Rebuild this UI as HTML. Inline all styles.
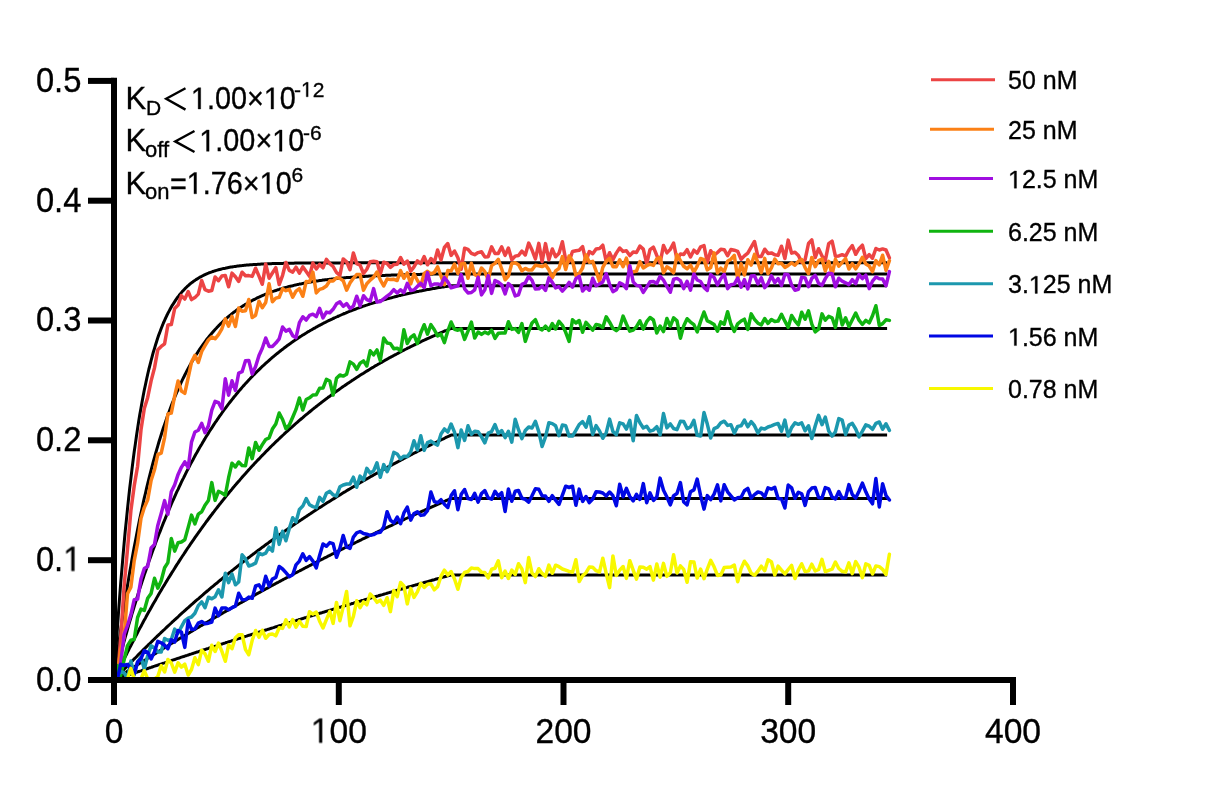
<!DOCTYPE html>
<html><head><meta charset="utf-8"><style>
html,body{margin:0;padding:0;background:#fff;}
svg{display:block;font-family:"Liberation Sans",sans-serif;}
.tx{filter:grayscale(100%);}
.tx text{stroke:#000;stroke-width:0.35px;}
</style></head><body>
<svg width="1218" height="787" viewBox="0 0 1218 787">
<rect width="1218" height="787" fill="#fff"/>
<g fill="none" stroke="#000" stroke-width="3" stroke-linejoin="round">
<path d="M114.0,680.0 L115.1,662.0 L116.2,644.9 L117.4,628.4 L118.5,612.7 L119.6,597.6 L120.7,583.2 L121.9,569.4 L123.0,556.2 L124.1,543.6 L125.2,531.5 L126.4,519.9 L127.5,508.9 L128.6,498.3 L129.7,488.1 L130.9,478.4 L132.0,469.1 L133.1,460.3 L134.2,451.8 L135.4,443.6 L136.5,435.8 L137.6,428.4 L138.7,421.3 L139.8,414.4 L141.0,407.9 L142.1,401.7 L143.2,395.7 L144.3,390.0 L145.5,384.5 L146.6,379.3 L147.7,374.2 L148.8,369.5 L150.0,364.9 L151.1,360.5 L152.2,356.3 L153.3,352.2 L154.5,348.4 L155.6,344.7 L156.7,341.2 L157.8,337.8 L158.9,334.6 L160.1,331.5 L161.2,328.5 L162.3,325.7 L163.4,323.0 L164.6,320.4 L165.7,317.9 L166.8,315.5 L167.9,313.3 L169.1,311.1 L170.2,309.0 L171.3,307.0 L172.4,305.1 L173.6,303.3 L174.7,301.6 L175.8,299.9 L176.9,298.3 L178.1,296.8 L179.2,295.3 L180.3,293.9 L181.4,292.6 L182.5,291.3 L183.7,290.1 L184.8,288.9 L185.9,287.8 L187.0,286.7 L188.2,285.7 L189.3,284.7 L190.4,283.7 L191.5,282.8 L192.7,282.0 L193.8,281.1 L194.9,280.4 L196.0,279.6 L197.2,278.9 L198.3,278.2 L199.4,277.5 L200.5,276.9 L201.7,276.3 L202.8,275.7 L203.9,275.1 L205.0,274.6 L206.1,274.1 L207.3,273.6 L208.4,273.2 L209.5,272.7 L210.6,272.3 L211.8,271.9 L212.9,271.5 L214.0,271.1 L215.1,270.8 L216.3,270.4 L217.4,270.1 L218.5,269.8 L219.6,269.5 L220.8,269.2 L221.9,268.9 L223.0,268.6 L224.1,268.4 L225.3,268.2 L226.4,267.9 L227.5,267.7 L228.6,267.5 L229.7,267.3 L230.9,267.1 L232.0,266.9 L233.1,266.7 L234.2,266.6 L235.4,266.4 L236.5,266.2 L237.6,266.1 L238.7,266.0 L239.9,265.8 L241.0,265.7 L242.1,265.6 L243.2,265.4 L244.4,265.3 L245.5,265.2 L246.6,265.1 L247.7,265.0 L248.8,264.9 L250.0,264.8 L251.1,264.7 L252.2,264.7 L253.3,264.6 L254.5,264.5 L255.6,264.4 L256.7,264.4 L257.8,264.3 L259.0,264.2 L260.1,264.2 L261.2,264.1 L262.3,264.1 L263.5,264.0 L264.6,263.9 L265.7,263.9 L266.8,263.9 L268.0,263.8 L269.1,263.8 L270.2,263.7 L271.3,263.7 L272.4,263.6 L273.6,263.6 L274.7,263.6 L275.8,263.5 L276.9,263.5 L278.1,263.5 L279.2,263.4 L280.3,263.4 L281.4,263.4 L282.6,263.4 L283.7,263.3 L284.8,263.3 L285.9,263.3 L287.1,263.3 L288.2,263.3 L289.3,263.2 L290.4,263.2 L291.6,263.2 L292.7,263.2 L293.8,263.2 L294.9,263.1 L296.0,263.1 L297.2,263.1 L298.3,263.1 L299.4,263.1 L300.5,263.1 L301.7,263.1 L302.8,263.1 L303.9,263.0 L305.0,263.0 L306.2,263.0 L307.3,263.0 L308.4,263.0 L309.5,263.0 L310.7,263.0 L311.8,263.0 L312.9,263.0 L314.0,263.0 L315.2,263.0 L316.3,263.0 L317.4,262.9 L318.5,262.9 L319.6,262.9 L320.8,262.9 L321.9,262.9 L323.0,262.9 L324.1,262.9 L325.3,262.9 L326.4,262.9 L327.5,262.9 L328.6,262.9 L329.8,262.9 L330.9,262.9 L332.0,262.9 L333.1,262.9 L334.3,262.9 L335.4,262.9 L336.5,262.9 L337.6,262.9 L338.8,262.9 L339.9,262.9 L341.0,262.9 L342.1,262.9 L343.2,262.9 L344.4,262.8 L345.5,262.8 L346.6,262.8 L347.7,262.8 L348.9,262.8 L350.0,262.8 L351.1,262.8 L352.2,262.8 L353.4,262.8 L354.5,262.8 L355.6,262.8 L356.7,262.8 L357.9,262.8 L359.0,262.8 L360.1,262.8 L361.2,262.8 L362.3,262.8 L363.5,262.8 L364.6,262.8 L365.7,262.8 L366.8,262.8 L368.0,262.8 L369.1,262.8 L370.2,262.8 L371.3,262.8 L372.5,262.8 L373.6,262.8 L374.7,262.8 L375.8,262.8 L377.0,262.8 L378.1,262.8 L379.2,262.8 L380.3,262.8 L381.5,262.8 L382.6,262.8 L383.7,262.8 L384.8,262.8 L385.9,262.8 L387.1,262.8 L388.2,262.8 L389.3,262.8 L390.4,262.8 L391.6,262.8 L392.7,262.8 L393.8,262.8 L394.9,262.8 L396.1,262.8 L397.2,262.8 L398.3,262.8 L399.4,262.8 L400.6,262.8 L401.7,262.8 L402.8,262.8 L403.9,262.8 L405.1,262.8 L406.2,262.8 L407.3,262.8 L408.4,262.8 L409.5,262.8 L410.7,262.8 L411.8,262.8 L412.9,262.8 L414.0,262.8 L415.2,262.8 L416.3,262.8 L417.4,262.8 L418.5,262.8 L419.7,262.8 L420.8,262.8 L421.9,262.8 L423.0,262.8 L424.2,262.8 L425.3,262.8 L426.4,262.8 L427.5,262.8 L428.7,262.8 L429.8,262.8 L430.9,262.8 L432.0,262.8 L433.1,262.8 L434.3,262.8 L435.4,262.8 L436.5,262.8 L437.6,262.8 L438.8,262.8 L439.9,262.8 L441.0,262.8 L442.1,262.8 L443.3,262.8 L444.4,262.8 L445.5,262.8 L446.6,262.8 L447.8,262.8 L448.9,262.8 L450.0,262.8 L451.1,262.8 L887.1,262.8" /><path d="M114.0,680.0 L115.1,671.2 L116.2,662.5 L117.4,654.0 L118.5,645.7 L119.6,637.6 L120.7,629.7 L121.9,622.0 L123.0,614.4 L124.1,607.0 L125.2,599.7 L126.4,592.6 L127.5,585.6 L128.6,578.9 L129.7,572.2 L130.9,565.7 L132.0,559.3 L133.1,553.1 L134.2,547.0 L135.4,541.1 L136.5,535.2 L137.6,529.5 L138.7,524.0 L139.8,518.5 L141.0,513.2 L142.1,508.0 L143.2,502.9 L144.3,497.9 L145.5,493.0 L146.6,488.2 L147.7,483.5 L148.8,479.0 L150.0,474.5 L151.1,470.1 L152.2,465.8 L153.3,461.6 L154.5,457.5 L155.6,453.5 L156.7,449.6 L157.8,445.8 L158.9,442.0 L160.1,438.3 L161.2,434.8 L162.3,431.2 L163.4,427.8 L164.6,424.4 L165.7,421.2 L166.8,417.9 L167.9,414.8 L169.1,411.7 L170.2,408.7 L171.3,405.8 L172.4,402.9 L173.6,400.1 L174.7,397.3 L175.8,394.6 L176.9,392.0 L178.1,389.4 L179.2,386.9 L180.3,384.4 L181.4,382.0 L182.5,379.6 L183.7,377.3 L184.8,375.0 L185.9,372.8 L187.0,370.7 L188.2,368.5 L189.3,366.5 L190.4,364.4 L191.5,362.5 L192.7,360.5 L193.8,358.6 L194.9,356.8 L196.0,355.0 L197.2,353.2 L198.3,351.4 L199.4,349.7 L200.5,348.1 L201.7,346.5 L202.8,344.9 L203.9,343.3 L205.0,341.8 L206.1,340.3 L207.3,338.8 L208.4,337.4 L209.5,336.0 L210.6,334.7 L211.8,333.3 L212.9,332.0 L214.0,330.7 L215.1,329.5 L216.3,328.3 L217.4,327.1 L218.5,325.9 L219.6,324.8 L220.8,323.6 L221.9,322.6 L223.0,321.5 L224.1,320.4 L225.3,319.4 L226.4,318.4 L227.5,317.4 L228.6,316.5 L229.7,315.5 L230.9,314.6 L232.0,313.7 L233.1,312.8 L234.2,312.0 L235.4,311.1 L236.5,310.3 L237.6,309.5 L238.7,308.7 L239.9,308.0 L241.0,307.2 L242.1,306.5 L243.2,305.7 L244.4,305.0 L245.5,304.3 L246.6,303.7 L247.7,303.0 L248.8,302.4 L250.0,301.7 L251.1,301.1 L252.2,300.5 L253.3,299.9 L254.5,299.3 L255.6,298.8 L256.7,298.2 L257.8,297.7 L259.0,297.2 L260.1,296.6 L261.2,296.1 L262.3,295.6 L263.5,295.1 L264.6,294.7 L265.7,294.2 L266.8,293.8 L268.0,293.3 L269.1,292.9 L270.2,292.5 L271.3,292.0 L272.4,291.6 L273.6,291.2 L274.7,290.8 L275.8,290.5 L276.9,290.1 L278.1,289.7 L279.2,289.4 L280.3,289.0 L281.4,288.7 L282.6,288.3 L283.7,288.0 L284.8,287.7 L285.9,287.4 L287.1,287.1 L288.2,286.8 L289.3,286.5 L290.4,286.2 L291.6,285.9 L292.7,285.7 L293.8,285.4 L294.9,285.1 L296.0,284.9 L297.2,284.6 L298.3,284.4 L299.4,284.1 L300.5,283.9 L301.7,283.7 L302.8,283.4 L303.9,283.2 L305.0,283.0 L306.2,282.8 L307.3,282.6 L308.4,282.4 L309.5,282.2 L310.7,282.0 L311.8,281.8 L312.9,281.6 L314.0,281.4 L315.2,281.3 L316.3,281.1 L317.4,280.9 L318.5,280.8 L319.6,280.6 L320.8,280.4 L321.9,280.3 L323.0,280.1 L324.1,280.0 L325.3,279.8 L326.4,279.7 L327.5,279.6 L328.6,279.4 L329.8,279.3 L330.9,279.2 L332.0,279.0 L333.1,278.9 L334.3,278.8 L335.4,278.7 L336.5,278.6 L337.6,278.5 L338.8,278.3 L339.9,278.2 L341.0,278.1 L342.1,278.0 L343.2,277.9 L344.4,277.8 L345.5,277.7 L346.6,277.6 L347.7,277.5 L348.9,277.4 L350.0,277.4 L351.1,277.3 L352.2,277.2 L353.4,277.1 L354.5,277.0 L355.6,276.9 L356.7,276.9 L357.9,276.8 L359.0,276.7 L360.1,276.6 L361.2,276.6 L362.3,276.5 L363.5,276.4 L364.6,276.4 L365.7,276.3 L366.8,276.2 L368.0,276.2 L369.1,276.1 L370.2,276.0 L371.3,276.0 L372.5,275.9 L373.6,275.9 L374.7,275.8 L375.8,275.8 L377.0,275.7 L378.1,275.7 L379.2,275.6 L380.3,275.6 L381.5,275.5 L382.6,275.5 L383.7,275.4 L384.8,275.4 L385.9,275.3 L387.1,275.3 L388.2,275.2 L389.3,275.2 L390.4,275.2 L391.6,275.1 L392.7,275.1 L393.8,275.0 L394.9,275.0 L396.1,275.0 L397.2,274.9 L398.3,274.9 L399.4,274.9 L400.6,274.8 L401.7,274.8 L402.8,274.8 L403.9,274.7 L405.1,274.7 L406.2,274.7 L407.3,274.7 L408.4,274.6 L409.5,274.6 L410.7,274.6 L411.8,274.5 L412.9,274.5 L414.0,274.5 L415.2,274.5 L416.3,274.4 L417.4,274.4 L418.5,274.4 L419.7,274.4 L420.8,274.3 L421.9,274.3 L423.0,274.3 L424.2,274.3 L425.3,274.3 L426.4,274.2 L427.5,274.2 L428.7,274.2 L429.8,274.2 L430.9,274.2 L432.0,274.2 L433.1,274.1 L434.3,274.1 L435.4,274.1 L436.5,274.1 L437.6,274.1 L438.8,274.1 L439.9,274.0 L441.0,274.0 L442.1,274.0 L443.3,274.0 L444.4,274.0 L445.5,274.0 L446.6,274.0 L447.8,273.9 L448.9,273.9 L450.0,273.9 L451.1,273.9 L887.1,273.9" /><path d="M114.0,680.0 L115.1,675.5 L116.2,671.1 L117.4,666.7 L118.5,662.4 L119.6,658.1 L120.7,653.9 L121.9,649.7 L123.0,645.5 L124.1,641.4 L125.2,637.4 L126.4,633.3 L127.5,629.4 L128.6,625.4 L129.7,621.6 L130.9,617.7 L132.0,613.9 L133.1,610.2 L134.2,606.5 L135.4,602.8 L136.5,599.2 L137.6,595.6 L138.7,592.0 L139.8,588.5 L141.0,585.0 L142.1,581.6 L143.2,578.2 L144.3,574.8 L145.5,571.5 L146.6,568.2 L147.7,564.9 L148.8,561.7 L150.0,558.5 L151.1,555.4 L152.2,552.3 L153.3,549.2 L154.5,546.1 L155.6,543.1 L156.7,540.1 L157.8,537.2 L158.9,534.3 L160.1,531.4 L161.2,528.5 L162.3,525.7 L163.4,522.9 L164.6,520.2 L165.7,517.4 L166.8,514.7 L167.9,512.1 L169.1,509.4 L170.2,506.8 L171.3,504.2 L172.4,501.7 L173.6,499.1 L174.7,496.6 L175.8,494.2 L176.9,491.7 L178.1,489.3 L179.2,486.9 L180.3,484.5 L181.4,482.2 L182.5,479.9 L183.7,477.6 L184.8,475.3 L185.9,473.1 L187.0,470.9 L188.2,468.7 L189.3,466.5 L190.4,464.4 L191.5,462.3 L192.7,460.2 L193.8,458.1 L194.9,456.0 L196.0,454.0 L197.2,452.0 L198.3,450.0 L199.4,448.1 L200.5,446.1 L201.7,444.2 L202.8,442.3 L203.9,440.4 L205.0,438.6 L206.1,436.7 L207.3,434.9 L208.4,433.1 L209.5,431.3 L210.6,429.6 L211.8,427.8 L212.9,426.1 L214.0,424.4 L215.1,422.7 L216.3,421.1 L217.4,419.4 L218.5,417.8 L219.6,416.2 L220.8,414.6 L221.9,413.0 L223.0,411.4 L224.1,409.9 L225.3,408.4 L226.4,406.9 L227.5,405.4 L228.6,403.9 L229.7,402.5 L230.9,401.0 L232.0,399.6 L233.1,398.2 L234.2,396.8 L235.4,395.4 L236.5,394.0 L237.6,392.7 L238.7,391.3 L239.9,390.0 L241.0,388.7 L242.1,387.4 L243.2,386.1 L244.4,384.9 L245.5,383.6 L246.6,382.4 L247.7,381.2 L248.8,380.0 L250.0,378.8 L251.1,377.6 L252.2,376.4 L253.3,375.3 L254.5,374.1 L255.6,373.0 L256.7,371.9 L257.8,370.8 L259.0,369.7 L260.1,368.6 L261.2,367.5 L262.3,366.4 L263.5,365.4 L264.6,364.4 L265.7,363.3 L266.8,362.3 L268.0,361.3 L269.1,360.3 L270.2,359.3 L271.3,358.4 L272.4,357.4 L273.6,356.5 L274.7,355.5 L275.8,354.6 L276.9,353.7 L278.1,352.8 L279.2,351.9 L280.3,351.0 L281.4,350.1 L282.6,349.2 L283.7,348.4 L284.8,347.5 L285.9,346.7 L287.1,345.8 L288.2,345.0 L289.3,344.2 L290.4,343.4 L291.6,342.6 L292.7,341.8 L293.8,341.0 L294.9,340.3 L296.0,339.5 L297.2,338.7 L298.3,338.0 L299.4,337.3 L300.5,336.5 L301.7,335.8 L302.8,335.1 L303.9,334.4 L305.0,333.7 L306.2,333.0 L307.3,332.3 L308.4,331.6 L309.5,331.0 L310.7,330.3 L311.8,329.7 L312.9,329.0 L314.0,328.4 L315.2,327.8 L316.3,327.1 L317.4,326.5 L318.5,325.9 L319.6,325.3 L320.8,324.7 L321.9,324.1 L323.0,323.5 L324.1,322.9 L325.3,322.4 L326.4,321.8 L327.5,321.2 L328.6,320.7 L329.8,320.1 L330.9,319.6 L332.0,319.1 L333.1,318.5 L334.3,318.0 L335.4,317.5 L336.5,317.0 L337.6,316.5 L338.8,316.0 L339.9,315.5 L341.0,315.0 L342.1,314.5 L343.2,314.0 L344.4,313.5 L345.5,313.1 L346.6,312.6 L347.7,312.1 L348.9,311.7 L350.0,311.2 L351.1,310.8 L352.2,310.4 L353.4,309.9 L354.5,309.5 L355.6,309.1 L356.7,308.6 L357.9,308.2 L359.0,307.8 L360.1,307.4 L361.2,307.0 L362.3,306.6 L363.5,306.2 L364.6,305.8 L365.7,305.4 L366.8,305.1 L368.0,304.7 L369.1,304.3 L370.2,303.9 L371.3,303.6 L372.5,303.2 L373.6,302.9 L374.7,302.5 L375.8,302.2 L377.0,301.8 L378.1,301.5 L379.2,301.1 L380.3,300.8 L381.5,300.5 L382.6,300.1 L383.7,299.8 L384.8,299.5 L385.9,299.2 L387.1,298.9 L388.2,298.6 L389.3,298.3 L390.4,297.9 L391.6,297.7 L392.7,297.4 L393.8,297.1 L394.9,296.8 L396.1,296.5 L397.2,296.2 L398.3,295.9 L399.4,295.6 L400.6,295.4 L401.7,295.1 L402.8,294.8 L403.9,294.6 L405.1,294.3 L406.2,294.0 L407.3,293.8 L408.4,293.5 L409.5,293.3 L410.7,293.0 L411.8,292.8 L412.9,292.5 L414.0,292.3 L415.2,292.1 L416.3,291.8 L417.4,291.6 L418.5,291.4 L419.7,291.1 L420.8,290.9 L421.9,290.7 L423.0,290.5 L424.2,290.3 L425.3,290.0 L426.4,289.8 L427.5,289.6 L428.7,289.4 L429.8,289.2 L430.9,289.0 L432.0,288.8 L433.1,288.6 L434.3,288.4 L435.4,288.2 L436.5,288.0 L437.6,287.8 L438.8,287.6 L439.9,287.5 L441.0,287.3 L442.1,287.1 L443.3,286.9 L444.4,286.7 L445.5,286.6 L446.6,286.4 L447.8,286.2 L448.9,286.0 L450.0,285.9 L451.1,285.7 L887.1,285.7" /><path d="M114.0,680.0 L115.1,677.6 L116.2,675.2 L117.4,672.9 L118.5,670.5 L119.6,668.2 L120.7,665.9 L121.9,663.6 L123.0,661.3 L124.1,659.0 L125.2,656.7 L126.4,654.5 L127.5,652.2 L128.6,650.0 L129.7,647.7 L130.9,645.5 L132.0,643.3 L133.1,641.2 L134.2,639.0 L135.4,636.8 L136.5,634.7 L137.6,632.5 L138.7,630.4 L139.8,628.3 L141.0,626.2 L142.1,624.1 L143.2,622.0 L144.3,619.9 L145.5,617.9 L146.6,615.8 L147.7,613.8 L148.8,611.8 L150.0,609.8 L151.1,607.8 L152.2,605.8 L153.3,603.8 L154.5,601.8 L155.6,599.9 L156.7,597.9 L157.8,596.0 L158.9,594.1 L160.1,592.1 L161.2,590.2 L162.3,588.3 L163.4,586.5 L164.6,584.6 L165.7,582.7 L166.8,580.9 L167.9,579.0 L169.1,577.2 L170.2,575.4 L171.3,573.6 L172.4,571.8 L173.6,570.0 L174.7,568.2 L175.8,566.4 L176.9,564.6 L178.1,562.9 L179.2,561.1 L180.3,559.4 L181.4,557.7 L182.5,556.0 L183.7,554.3 L184.8,552.6 L185.9,550.9 L187.0,549.2 L188.2,547.5 L189.3,545.9 L190.4,544.2 L191.5,542.6 L192.7,540.9 L193.8,539.3 L194.9,537.7 L196.0,536.1 L197.2,534.5 L198.3,532.9 L199.4,531.3 L200.5,529.8 L201.7,528.2 L202.8,526.6 L203.9,525.1 L205.0,523.6 L206.1,522.0 L207.3,520.5 L208.4,519.0 L209.5,517.5 L210.6,516.0 L211.8,514.5 L212.9,513.0 L214.0,511.6 L215.1,510.1 L216.3,508.6 L217.4,507.2 L218.5,505.8 L219.6,504.3 L220.8,502.9 L221.9,501.5 L223.0,500.1 L224.1,498.7 L225.3,497.3 L226.4,495.9 L227.5,494.5 L228.6,493.2 L229.7,491.8 L230.9,490.4 L232.0,489.1 L233.1,487.7 L234.2,486.4 L235.4,485.1 L236.5,483.8 L237.6,482.5 L238.7,481.2 L239.9,479.9 L241.0,478.6 L242.1,477.3 L243.2,476.0 L244.4,474.7 L245.5,473.5 L246.6,472.2 L247.7,471.0 L248.8,469.7 L250.0,468.5 L251.1,467.3 L252.2,466.1 L253.3,464.9 L254.5,463.6 L255.6,462.4 L256.7,461.3 L257.8,460.1 L259.0,458.9 L260.1,457.7 L261.2,456.5 L262.3,455.4 L263.5,454.2 L264.6,453.1 L265.7,451.9 L266.8,450.8 L268.0,449.7 L269.1,448.5 L270.2,447.4 L271.3,446.3 L272.4,445.2 L273.6,444.1 L274.7,443.0 L275.8,441.9 L276.9,440.9 L278.1,439.8 L279.2,438.7 L280.3,437.6 L281.4,436.6 L282.6,435.5 L283.7,434.5 L284.8,433.4 L285.9,432.4 L287.1,431.4 L288.2,430.4 L289.3,429.3 L290.4,428.3 L291.6,427.3 L292.7,426.3 L293.8,425.3 L294.9,424.3 L296.0,423.4 L297.2,422.4 L298.3,421.4 L299.4,420.4 L300.5,419.5 L301.7,418.5 L302.8,417.6 L303.9,416.6 L305.0,415.7 L306.2,414.7 L307.3,413.8 L308.4,412.9 L309.5,412.0 L310.7,411.0 L311.8,410.1 L312.9,409.2 L314.0,408.3 L315.2,407.4 L316.3,406.5 L317.4,405.6 L318.5,404.8 L319.6,403.9 L320.8,403.0 L321.9,402.1 L323.0,401.3 L324.1,400.4 L325.3,399.6 L326.4,398.7 L327.5,397.9 L328.6,397.0 L329.8,396.2 L330.9,395.4 L332.0,394.5 L333.1,393.7 L334.3,392.9 L335.4,392.1 L336.5,391.3 L337.6,390.5 L338.8,389.7 L339.9,388.9 L341.0,388.1 L342.1,387.3 L343.2,386.5 L344.4,385.8 L345.5,385.0 L346.6,384.2 L347.7,383.4 L348.9,382.7 L350.0,381.9 L351.1,381.2 L352.2,380.4 L353.4,379.7 L354.5,378.9 L355.6,378.2 L356.7,377.5 L357.9,376.8 L359.0,376.0 L360.1,375.3 L361.2,374.6 L362.3,373.9 L363.5,373.2 L364.6,372.5 L365.7,371.8 L366.8,371.1 L368.0,370.4 L369.1,369.7 L370.2,369.0 L371.3,368.3 L372.5,367.6 L373.6,367.0 L374.7,366.3 L375.8,365.6 L377.0,365.0 L378.1,364.3 L379.2,363.7 L380.3,363.0 L381.5,362.4 L382.6,361.7 L383.7,361.1 L384.8,360.4 L385.9,359.8 L387.1,359.2 L388.2,358.5 L389.3,357.9 L390.4,357.3 L391.6,356.7 L392.7,356.1 L393.8,355.5 L394.9,354.9 L396.1,354.3 L397.2,353.7 L398.3,353.1 L399.4,352.5 L400.6,351.9 L401.7,351.3 L402.8,350.7 L403.9,350.1 L405.1,349.5 L406.2,349.0 L407.3,348.4 L408.4,347.8 L409.5,347.3 L410.7,346.7 L411.8,346.1 L412.9,345.6 L414.0,345.0 L415.2,344.5 L416.3,343.9 L417.4,343.4 L418.5,342.9 L419.7,342.3 L420.8,341.8 L421.9,341.2 L423.0,340.7 L424.2,340.2 L425.3,339.7 L426.4,339.1 L427.5,338.6 L428.7,338.1 L429.8,337.6 L430.9,337.1 L432.0,336.6 L433.1,336.1 L434.3,335.6 L435.4,335.1 L436.5,334.6 L437.6,334.1 L438.8,333.6 L439.9,333.1 L441.0,332.6 L442.1,332.2 L443.3,331.7 L444.4,331.2 L445.5,330.7 L446.6,330.3 L447.8,329.8 L448.9,329.3 L450.0,328.9 L451.1,328.4 L887.1,328.4" /><path d="M114.0,680.0 L115.1,678.8 L116.2,677.6 L117.4,676.4 L118.5,675.2 L119.6,674.0 L120.7,672.9 L121.9,671.7 L123.0,670.5 L124.1,669.3 L125.2,668.2 L126.4,667.0 L127.5,665.8 L128.6,664.7 L129.7,663.5 L130.9,662.4 L132.0,661.2 L133.1,660.1 L134.2,658.9 L135.4,657.8 L136.5,656.7 L137.6,655.5 L138.7,654.4 L139.8,653.3 L141.0,652.2 L142.1,651.0 L143.2,649.9 L144.3,648.8 L145.5,647.7 L146.6,646.6 L147.7,645.5 L148.8,644.4 L150.0,643.3 L151.1,642.2 L152.2,641.1 L153.3,640.0 L154.5,638.9 L155.6,637.8 L156.7,636.7 L157.8,635.7 L158.9,634.6 L160.1,633.5 L161.2,632.4 L162.3,631.4 L163.4,630.3 L164.6,629.3 L165.7,628.2 L166.8,627.1 L167.9,626.1 L169.1,625.0 L170.2,624.0 L171.3,623.0 L172.4,621.9 L173.6,620.9 L174.7,619.8 L175.8,618.8 L176.9,617.8 L178.1,616.8 L179.2,615.7 L180.3,614.7 L181.4,613.7 L182.5,612.7 L183.7,611.7 L184.8,610.7 L185.9,609.6 L187.0,608.6 L188.2,607.6 L189.3,606.6 L190.4,605.6 L191.5,604.7 L192.7,603.7 L193.8,602.7 L194.9,601.7 L196.0,600.7 L197.2,599.7 L198.3,598.8 L199.4,597.8 L200.5,596.8 L201.7,595.8 L202.8,594.9 L203.9,593.9 L205.0,592.9 L206.1,592.0 L207.3,591.0 L208.4,590.1 L209.5,589.1 L210.6,588.2 L211.8,587.2 L212.9,586.3 L214.0,585.4 L215.1,584.4 L216.3,583.5 L217.4,582.6 L218.5,581.6 L219.6,580.7 L220.8,579.8 L221.9,578.8 L223.0,577.9 L224.1,577.0 L225.3,576.1 L226.4,575.2 L227.5,574.3 L228.6,573.4 L229.7,572.5 L230.9,571.6 L232.0,570.7 L233.1,569.8 L234.2,568.9 L235.4,568.0 L236.5,567.1 L237.6,566.2 L238.7,565.3 L239.9,564.4 L241.0,563.6 L242.1,562.7 L243.2,561.8 L244.4,560.9 L245.5,560.1 L246.6,559.2 L247.7,558.3 L248.8,557.5 L250.0,556.6 L251.1,555.7 L252.2,554.9 L253.3,554.0 L254.5,553.2 L255.6,552.3 L256.7,551.5 L257.8,550.6 L259.0,549.8 L260.1,549.0 L261.2,548.1 L262.3,547.3 L263.5,546.5 L264.6,545.6 L265.7,544.8 L266.8,544.0 L268.0,543.2 L269.1,542.3 L270.2,541.5 L271.3,540.7 L272.4,539.9 L273.6,539.1 L274.7,538.3 L275.8,537.4 L276.9,536.6 L278.1,535.8 L279.2,535.0 L280.3,534.2 L281.4,533.4 L282.6,532.6 L283.7,531.9 L284.8,531.1 L285.9,530.3 L287.1,529.5 L288.2,528.7 L289.3,527.9 L290.4,527.1 L291.6,526.4 L292.7,525.6 L293.8,524.8 L294.9,524.0 L296.0,523.3 L297.2,522.5 L298.3,521.7 L299.4,521.0 L300.5,520.2 L301.7,519.5 L302.8,518.7 L303.9,518.0 L305.0,517.2 L306.2,516.5 L307.3,515.7 L308.4,515.0 L309.5,514.2 L310.7,513.5 L311.8,512.7 L312.9,512.0 L314.0,511.3 L315.2,510.5 L316.3,509.8 L317.4,509.1 L318.5,508.3 L319.6,507.6 L320.8,506.9 L321.9,506.2 L323.0,505.4 L324.1,504.7 L325.3,504.0 L326.4,503.3 L327.5,502.6 L328.6,501.9 L329.8,501.2 L330.9,500.5 L332.0,499.8 L333.1,499.1 L334.3,498.4 L335.4,497.7 L336.5,497.0 L337.6,496.3 L338.8,495.6 L339.9,494.9 L341.0,494.2 L342.1,493.5 L343.2,492.8 L344.4,492.1 L345.5,491.5 L346.6,490.8 L347.7,490.1 L348.9,489.4 L350.0,488.7 L351.1,488.1 L352.2,487.4 L353.4,486.7 L354.5,486.1 L355.6,485.4 L356.7,484.7 L357.9,484.1 L359.0,483.4 L360.1,482.8 L361.2,482.1 L362.3,481.5 L363.5,480.8 L364.6,480.2 L365.7,479.5 L366.8,478.9 L368.0,478.2 L369.1,477.6 L370.2,476.9 L371.3,476.3 L372.5,475.7 L373.6,475.0 L374.7,474.4 L375.8,473.8 L377.0,473.1 L378.1,472.5 L379.2,471.9 L380.3,471.2 L381.5,470.6 L382.6,470.0 L383.7,469.4 L384.8,468.8 L385.9,468.1 L387.1,467.5 L388.2,466.9 L389.3,466.3 L390.4,465.7 L391.6,465.1 L392.7,464.5 L393.8,463.9 L394.9,463.3 L396.1,462.7 L397.2,462.1 L398.3,461.5 L399.4,460.9 L400.6,460.3 L401.7,459.7 L402.8,459.1 L403.9,458.5 L405.1,457.9 L406.2,457.3 L407.3,456.7 L408.4,456.1 L409.5,455.6 L410.7,455.0 L411.8,454.4 L412.9,453.8 L414.0,453.2 L415.2,452.7 L416.3,452.1 L417.4,451.5 L418.5,451.0 L419.7,450.4 L420.8,449.8 L421.9,449.3 L423.0,448.7 L424.2,448.1 L425.3,447.6 L426.4,447.0 L427.5,446.5 L428.7,445.9 L429.8,445.3 L430.9,444.8 L432.0,444.2 L433.1,443.7 L434.3,443.1 L435.4,442.6 L436.5,442.1 L437.6,441.5 L438.8,441.0 L439.9,440.4 L441.0,439.9 L442.1,439.3 L443.3,438.8 L444.4,438.3 L445.5,437.7 L446.6,437.2 L447.8,436.7 L448.9,436.2 L450.0,435.6 L451.1,435.1 L887.1,435.1" /><path d="M114.0,680.0 L115.1,679.3 L116.2,678.5 L117.4,677.8 L118.5,677.1 L119.6,676.3 L120.7,675.6 L121.9,674.9 L123.0,674.1 L124.1,673.4 L125.2,672.7 L126.4,671.9 L127.5,671.2 L128.6,670.5 L129.7,669.8 L130.9,669.0 L132.0,668.3 L133.1,667.6 L134.2,666.9 L135.4,666.1 L136.5,665.4 L137.6,664.7 L138.7,664.0 L139.8,663.3 L141.0,662.6 L142.1,661.9 L143.2,661.1 L144.3,660.4 L145.5,659.7 L146.6,659.0 L147.7,658.3 L148.8,657.6 L150.0,656.9 L151.1,656.2 L152.2,655.5 L153.3,654.8 L154.5,654.1 L155.6,653.4 L156.7,652.7 L157.8,652.0 L158.9,651.3 L160.1,650.6 L161.2,649.9 L162.3,649.2 L163.4,648.5 L164.6,647.8 L165.7,647.1 L166.8,646.4 L167.9,645.7 L169.1,645.0 L170.2,644.3 L171.3,643.6 L172.4,642.9 L173.6,642.2 L174.7,641.6 L175.8,640.9 L176.9,640.2 L178.1,639.5 L179.2,638.8 L180.3,638.1 L181.4,637.5 L182.5,636.8 L183.7,636.1 L184.8,635.4 L185.9,634.8 L187.0,634.1 L188.2,633.4 L189.3,632.7 L190.4,632.1 L191.5,631.4 L192.7,630.7 L193.8,630.0 L194.9,629.4 L196.0,628.7 L197.2,628.0 L198.3,627.4 L199.4,626.7 L200.5,626.0 L201.7,625.4 L202.8,624.7 L203.9,624.0 L205.0,623.4 L206.1,622.7 L207.3,622.1 L208.4,621.4 L209.5,620.8 L210.6,620.1 L211.8,619.4 L212.9,618.8 L214.0,618.1 L215.1,617.5 L216.3,616.8 L217.4,616.2 L218.5,615.5 L219.6,614.9 L220.8,614.2 L221.9,613.6 L223.0,612.9 L224.1,612.3 L225.3,611.6 L226.4,611.0 L227.5,610.4 L228.6,609.7 L229.7,609.1 L230.9,608.4 L232.0,607.8 L233.1,607.1 L234.2,606.5 L235.4,605.9 L236.5,605.2 L237.6,604.6 L238.7,604.0 L239.9,603.3 L241.0,602.7 L242.1,602.1 L243.2,601.4 L244.4,600.8 L245.5,600.2 L246.6,599.5 L247.7,598.9 L248.8,598.3 L250.0,597.7 L251.1,597.0 L252.2,596.4 L253.3,595.8 L254.5,595.2 L255.6,594.6 L256.7,593.9 L257.8,593.3 L259.0,592.7 L260.1,592.1 L261.2,591.5 L262.3,590.8 L263.5,590.2 L264.6,589.6 L265.7,589.0 L266.8,588.4 L268.0,587.8 L269.1,587.2 L270.2,586.5 L271.3,585.9 L272.4,585.3 L273.6,584.7 L274.7,584.1 L275.8,583.5 L276.9,582.9 L278.1,582.3 L279.2,581.7 L280.3,581.1 L281.4,580.5 L282.6,579.9 L283.7,579.3 L284.8,578.7 L285.9,578.1 L287.1,577.5 L288.2,576.9 L289.3,576.3 L290.4,575.7 L291.6,575.1 L292.7,574.5 L293.8,573.9 L294.9,573.3 L296.0,572.7 L297.2,572.1 L298.3,571.5 L299.4,571.0 L300.5,570.4 L301.7,569.8 L302.8,569.2 L303.9,568.6 L305.0,568.0 L306.2,567.4 L307.3,566.9 L308.4,566.3 L309.5,565.7 L310.7,565.1 L311.8,564.5 L312.9,564.0 L314.0,563.4 L315.2,562.8 L316.3,562.2 L317.4,561.6 L318.5,561.1 L319.6,560.5 L320.8,559.9 L321.9,559.3 L323.0,558.8 L324.1,558.2 L325.3,557.6 L326.4,557.1 L327.5,556.5 L328.6,555.9 L329.8,555.4 L330.9,554.8 L332.0,554.2 L333.1,553.7 L334.3,553.1 L335.4,552.5 L336.5,552.0 L337.6,551.4 L338.8,550.8 L339.9,550.3 L341.0,549.7 L342.1,549.2 L343.2,548.6 L344.4,548.0 L345.5,547.5 L346.6,546.9 L347.7,546.4 L348.9,545.8 L350.0,545.3 L351.1,544.7 L352.2,544.2 L353.4,543.6 L354.5,543.1 L355.6,542.5 L356.7,542.0 L357.9,541.4 L359.0,540.9 L360.1,540.3 L361.2,539.8 L362.3,539.2 L363.5,538.7 L364.6,538.1 L365.7,537.6 L366.8,537.0 L368.0,536.5 L369.1,536.0 L370.2,535.4 L371.3,534.9 L372.5,534.3 L373.6,533.8 L374.7,533.3 L375.8,532.7 L377.0,532.2 L378.1,531.7 L379.2,531.1 L380.3,530.6 L381.5,530.1 L382.6,529.5 L383.7,529.0 L384.8,528.5 L385.9,527.9 L387.1,527.4 L388.2,526.9 L389.3,526.3 L390.4,525.8 L391.6,525.3 L392.7,524.8 L393.8,524.2 L394.9,523.7 L396.1,523.2 L397.2,522.7 L398.3,522.2 L399.4,521.6 L400.6,521.1 L401.7,520.6 L402.8,520.1 L403.9,519.6 L405.1,519.0 L406.2,518.5 L407.3,518.0 L408.4,517.5 L409.5,517.0 L410.7,516.5 L411.8,515.9 L412.9,515.4 L414.0,514.9 L415.2,514.4 L416.3,513.9 L417.4,513.4 L418.5,512.9 L419.7,512.4 L420.8,511.9 L421.9,511.3 L423.0,510.8 L424.2,510.3 L425.3,509.8 L426.4,509.3 L427.5,508.8 L428.7,508.3 L429.8,507.8 L430.9,507.3 L432.0,506.8 L433.1,506.3 L434.3,505.8 L435.4,505.3 L436.5,504.8 L437.6,504.3 L438.8,503.8 L439.9,503.3 L441.0,502.8 L442.1,502.3 L443.3,501.8 L444.4,501.3 L445.5,500.9 L446.6,500.4 L447.8,499.9 L448.9,499.4 L450.0,498.9 L451.1,498.4 L887.1,498.4" /><path d="M114.0,680.0 L115.1,679.6 L116.2,679.2 L117.4,678.8 L118.5,678.5 L119.6,678.1 L120.7,677.7 L121.9,677.3 L123.0,676.9 L124.1,676.5 L125.2,676.1 L126.4,675.8 L127.5,675.4 L128.6,675.0 L129.7,674.6 L130.9,674.2 L132.0,673.8 L133.1,673.4 L134.2,673.1 L135.4,672.7 L136.5,672.3 L137.6,671.9 L138.7,671.5 L139.8,671.2 L141.0,670.8 L142.1,670.4 L143.2,670.0 L144.3,669.6 L145.5,669.2 L146.6,668.9 L147.7,668.5 L148.8,668.1 L150.0,667.7 L151.1,667.4 L152.2,667.0 L153.3,666.6 L154.5,666.2 L155.6,665.8 L156.7,665.5 L157.8,665.1 L158.9,664.7 L160.1,664.3 L161.2,664.0 L162.3,663.6 L163.4,663.2 L164.6,662.8 L165.7,662.4 L166.8,662.1 L167.9,661.7 L169.1,661.3 L170.2,660.9 L171.3,660.6 L172.4,660.2 L173.6,659.8 L174.7,659.5 L175.8,659.1 L176.9,658.7 L178.1,658.3 L179.2,658.0 L180.3,657.6 L181.4,657.2 L182.5,656.8 L183.7,656.5 L184.8,656.1 L185.9,655.7 L187.0,655.4 L188.2,655.0 L189.3,654.6 L190.4,654.2 L191.5,653.9 L192.7,653.5 L193.8,653.1 L194.9,652.8 L196.0,652.4 L197.2,652.0 L198.3,651.7 L199.4,651.3 L200.5,650.9 L201.7,650.6 L202.8,650.2 L203.9,649.8 L205.0,649.5 L206.1,649.1 L207.3,648.7 L208.4,648.4 L209.5,648.0 L210.6,647.6 L211.8,647.3 L212.9,646.9 L214.0,646.5 L215.1,646.2 L216.3,645.8 L217.4,645.4 L218.5,645.1 L219.6,644.7 L220.8,644.3 L221.9,644.0 L223.0,643.6 L224.1,643.3 L225.3,642.9 L226.4,642.5 L227.5,642.2 L228.6,641.8 L229.7,641.5 L230.9,641.1 L232.0,640.7 L233.1,640.4 L234.2,640.0 L235.4,639.6 L236.5,639.3 L237.6,638.9 L238.7,638.6 L239.9,638.2 L241.0,637.9 L242.1,637.5 L243.2,637.1 L244.4,636.8 L245.5,636.4 L246.6,636.1 L247.7,635.7 L248.8,635.3 L250.0,635.0 L251.1,634.6 L252.2,634.3 L253.3,633.9 L254.5,633.6 L255.6,633.2 L256.7,632.9 L257.8,632.5 L259.0,632.1 L260.1,631.8 L261.2,631.4 L262.3,631.1 L263.5,630.7 L264.6,630.4 L265.7,630.0 L266.8,629.7 L268.0,629.3 L269.1,629.0 L270.2,628.6 L271.3,628.3 L272.4,627.9 L273.6,627.6 L274.7,627.2 L275.8,626.8 L276.9,626.5 L278.1,626.1 L279.2,625.8 L280.3,625.4 L281.4,625.1 L282.6,624.7 L283.7,624.4 L284.8,624.0 L285.9,623.7 L287.1,623.4 L288.2,623.0 L289.3,622.7 L290.4,622.3 L291.6,622.0 L292.7,621.6 L293.8,621.3 L294.9,620.9 L296.0,620.6 L297.2,620.2 L298.3,619.9 L299.4,619.5 L300.5,619.2 L301.7,618.8 L302.8,618.5 L303.9,618.1 L305.0,617.8 L306.2,617.5 L307.3,617.1 L308.4,616.8 L309.5,616.4 L310.7,616.1 L311.8,615.7 L312.9,615.4 L314.0,615.0 L315.2,614.7 L316.3,614.4 L317.4,614.0 L318.5,613.7 L319.6,613.3 L320.8,613.0 L321.9,612.7 L323.0,612.3 L324.1,612.0 L325.3,611.6 L326.4,611.3 L327.5,610.9 L328.6,610.6 L329.8,610.3 L330.9,609.9 L332.0,609.6 L333.1,609.3 L334.3,608.9 L335.4,608.6 L336.5,608.2 L337.6,607.9 L338.8,607.6 L339.9,607.2 L341.0,606.9 L342.1,606.5 L343.2,606.2 L344.4,605.9 L345.5,605.5 L346.6,605.2 L347.7,604.9 L348.9,604.5 L350.0,604.2 L351.1,603.9 L352.2,603.5 L353.4,603.2 L354.5,602.8 L355.6,602.5 L356.7,602.2 L357.9,601.8 L359.0,601.5 L360.1,601.2 L361.2,600.8 L362.3,600.5 L363.5,600.2 L364.6,599.8 L365.7,599.5 L366.8,599.2 L368.0,598.9 L369.1,598.5 L370.2,598.2 L371.3,597.9 L372.5,597.5 L373.6,597.2 L374.7,596.9 L375.8,596.5 L377.0,596.2 L378.1,595.9 L379.2,595.5 L380.3,595.2 L381.5,594.9 L382.6,594.6 L383.7,594.2 L384.8,593.9 L385.9,593.6 L387.1,593.2 L388.2,592.9 L389.3,592.6 L390.4,592.3 L391.6,591.9 L392.7,591.6 L393.8,591.3 L394.9,590.9 L396.1,590.6 L397.2,590.3 L398.3,590.0 L399.4,589.6 L400.6,589.3 L401.7,589.0 L402.8,588.7 L403.9,588.3 L405.1,588.0 L406.2,587.7 L407.3,587.4 L408.4,587.0 L409.5,586.7 L410.7,586.4 L411.8,586.1 L412.9,585.8 L414.0,585.4 L415.2,585.1 L416.3,584.8 L417.4,584.5 L418.5,584.1 L419.7,583.8 L420.8,583.5 L421.9,583.2 L423.0,582.9 L424.2,582.5 L425.3,582.2 L426.4,581.9 L427.5,581.6 L428.7,581.3 L429.8,580.9 L430.9,580.6 L432.0,580.3 L433.1,580.0 L434.3,579.7 L435.4,579.3 L436.5,579.0 L437.6,578.7 L438.8,578.4 L439.9,578.1 L441.0,577.7 L442.1,577.4 L443.3,577.1 L444.4,576.8 L445.5,576.5 L446.6,576.2 L447.8,575.8 L448.9,575.5 L450.0,575.2 L451.1,574.9 L887.1,574.9" />
</g>
<g fill="none" stroke-width="3.5" stroke-linejoin="round" stroke-linecap="round">
<path d="M114.0,679.0 L117.4,679.0 L120.7,638.0 L124.1,586.5 L127.5,549.2 L130.9,510.6 L134.2,485.9 L137.6,466.2 L141.0,429.8 L144.3,408.6 L147.7,397.4 L151.1,380.9 L154.5,367.9 L157.8,349.7 L161.2,346.4 L164.6,343.8 L167.9,325.0 L171.3,324.6 L174.7,308.5 L178.1,305.1 L181.4,295.6 L184.8,299.1 L188.2,291.5 L191.5,299.6 L194.9,297.6 L198.3,294.1 L201.7,280.5 L205.0,289.7 L208.4,291.2 L211.8,290.5 L215.1,277.0 L218.5,280.7 L221.9,276.0 L225.3,275.4 L228.6,286.8 L232.0,273.1 L235.4,276.8 L238.7,281.4 L242.1,272.2 L245.5,275.8 L248.8,275.6 L252.2,276.4 L255.6,268.2 L259.0,276.1 L262.3,284.3 L265.7,263.9 L269.1,278.2 L272.4,273.0 L275.8,267.7 L279.2,284.6 L282.6,275.3 L285.9,262.5 L289.3,270.4 L292.7,272.1 L296.0,267.1 L299.4,273.2 L302.8,266.9 L306.2,271.5 L309.5,276.2 L312.9,263.0 L316.3,269.0 L319.6,264.4 L323.0,267.8 L326.4,259.4 L329.8,263.6 L333.1,266.5 L336.5,272.5 L339.9,275.4 L343.2,258.9 L346.6,261.8 L350.0,269.7 L353.4,252.9 L356.7,263.6 L360.1,265.2 L363.5,273.5 L366.8,269.2 L370.2,261.7 L373.6,261.3 L377.0,261.7 L380.3,274.0 L383.7,262.2 L387.1,263.5 L390.4,267.4 L393.8,264.6 L397.2,264.2 L400.6,257.5 L403.9,264.1 L407.3,261.0 L410.7,271.2 L414.0,266.9 L417.4,260.9 L420.8,263.7 L424.2,256.6 L427.5,264.8 L430.9,258.5 L434.3,262.5 L437.6,250.0 L441.0,260.0 L444.4,247.5 L447.8,243.5 L451.1,255.4 L454.5,251.0 L457.9,257.7 L461.2,269.3 L464.6,248.2 L468.0,249.3 L471.4,253.3 L474.7,254.7 L478.1,252.6 L481.5,251.8 L484.8,256.9 L488.2,256.7 L491.6,246.9 L495.0,253.5 L498.3,253.4 L501.7,246.8 L505.1,255.4 L508.4,248.0 L511.8,259.7 L515.2,256.1 L518.5,255.5 L521.9,251.1 L525.3,255.0 L528.7,243.1 L532.0,250.0 L535.4,259.0 L538.8,243.4 L542.1,261.7 L545.5,243.6 L548.9,259.8 L552.3,249.0 L555.6,256.8 L559.0,253.3 L562.4,241.7 L565.7,260.0 L569.1,261.4 L572.5,251.5 L575.9,250.7 L579.2,250.3 L582.6,246.6 L586.0,261.2 L589.3,251.6 L592.7,253.7 L596.1,248.9 L599.5,248.6 L602.8,245.2 L606.2,261.5 L609.6,252.7 L612.9,259.6 L616.3,253.1 L619.7,248.0 L623.1,251.4 L626.4,250.8 L629.8,255.6 L633.2,252.0 L636.5,252.5 L639.9,246.1 L643.3,249.1 L646.7,263.8 L650.0,249.7 L653.4,247.2 L656.8,255.5 L660.1,263.0 L663.5,245.4 L666.9,252.9 L670.3,249.4 L673.6,243.0 L677.0,259.5 L680.4,254.1 L683.7,254.6 L687.1,249.7 L690.5,257.0 L693.9,250.2 L697.2,253.1 L700.6,246.8 L704.0,245.6 L707.3,262.4 L710.7,250.7 L714.1,255.2 L717.5,252.5 L720.8,249.2 L724.2,249.7 L727.6,255.7 L730.9,249.5 L734.3,250.2 L737.7,251.4 L741.1,259.3 L744.4,255.9 L747.8,253.1 L751.2,247.1 L754.5,241.5 L757.9,256.6 L761.3,256.6 L764.7,249.2 L768.0,253.4 L771.4,252.9 L774.8,254.8 L778.1,255.4 L781.5,246.2 L784.9,258.5 L788.2,240.1 L791.6,253.1 L795.0,252.2 L798.4,255.5 L801.7,262.3 L805.1,259.7 L808.5,243.5 L811.8,239.8 L815.2,257.5 L818.6,248.7 L822.0,255.9 L825.3,260.5 L828.7,243.7 L832.1,241.2 L835.4,256.2 L838.8,255.9 L842.2,254.7 L845.6,256.1 L848.9,250.0 L852.3,245.7 L855.7,254.3 L859.0,248.7 L862.4,245.2 L865.8,258.7 L869.2,254.7 L872.5,258.2 L875.9,248.5 L879.3,250.0 L882.6,248.9 L886.0,250.0 L889.4,257.9" stroke="#ec4444" /><path d="M114.0,679.0 L117.4,674.0 L120.7,649.8 L124.1,636.7 L127.5,593.8 L130.9,587.1 L134.2,560.9 L137.6,543.2 L141.0,518.2 L144.3,507.6 L147.7,499.9 L151.1,480.5 L154.5,469.8 L157.8,454.5 L161.2,453.2 L164.6,437.6 L167.9,413.9 L171.3,413.1 L174.7,395.8 L178.1,381.0 L181.4,391.1 L184.8,393.3 L188.2,377.7 L191.5,362.1 L194.9,355.3 L198.3,362.5 L201.7,351.4 L205.0,345.6 L208.4,340.0 L211.8,336.9 L215.1,338.8 L218.5,334.6 L221.9,328.8 L225.3,318.9 L228.6,326.2 L232.0,316.4 L235.4,326.5 L238.7,308.0 L242.1,311.3 L245.5,310.8 L248.8,299.5 L252.2,317.6 L255.6,315.2 L259.0,301.2 L262.3,307.7 L265.7,302.5 L269.1,283.8 L272.4,301.7 L275.8,298.1 L279.2,297.3 L282.6,288.7 L285.9,290.7 L289.3,289.3 L292.7,297.2 L296.0,291.2 L299.4,288.7 L302.8,296.3 L306.2,281.5 L309.5,282.0 L312.9,272.1 L316.3,292.9 L319.6,289.4 L323.0,288.3 L326.4,286.0 L329.8,280.7 L333.1,280.9 L336.5,277.8 L339.9,278.4 L343.2,280.7 L346.6,290.2 L350.0,282.9 L353.4,278.3 L356.7,274.6 L360.1,274.4 L363.5,290.3 L366.8,283.7 L370.2,280.1 L373.6,277.2 L377.0,272.0 L380.3,279.8 L383.7,286.0 L387.1,278.9 L390.4,279.6 L393.8,279.3 L397.2,280.5 L400.6,270.6 L403.9,278.3 L407.3,272.9 L410.7,283.9 L414.0,273.7 L417.4,280.5 L420.8,285.7 L424.2,273.5 L427.5,271.3 L430.9,273.8 L434.3,272.5 L437.6,266.8 L441.0,276.0 L444.4,284.6 L447.8,270.6 L451.1,271.1 L454.5,264.0 L457.9,273.5 L461.2,264.1 L464.6,263.6 L468.0,278.3 L471.4,263.2 L474.7,274.5 L478.1,276.5 L481.5,268.0 L484.8,271.6 L488.2,279.7 L491.6,265.6 L495.0,263.4 L498.3,259.3 L501.7,269.0 L505.1,279.8 L508.4,276.0 L511.8,263.5 L515.2,262.8 L518.5,264.7 L521.9,270.9 L525.3,268.4 L528.7,270.1 L532.0,269.9 L535.4,265.3 L538.8,265.7 L542.1,266.6 L545.5,264.7 L548.9,269.7 L552.3,277.8 L555.6,270.9 L559.0,268.5 L562.4,256.6 L565.7,269.5 L569.1,256.0 L572.5,260.9 L575.9,275.5 L579.2,273.7 L582.6,268.0 L586.0,254.9 L589.3,262.3 L592.7,261.4 L596.1,271.1 L599.5,281.4 L602.8,267.3 L606.2,261.4 L609.6,258.4 L612.9,266.7 L616.3,266.7 L619.7,259.9 L623.1,266.6 L626.4,258.1 L629.8,272.0 L633.2,271.7 L636.5,271.2 L639.9,261.6 L643.3,268.0 L646.7,265.7 L650.0,264.2 L653.4,265.4 L656.8,258.8 L660.1,257.5 L663.5,272.8 L666.9,266.8 L670.3,269.0 L673.6,272.8 L677.0,254.6 L680.4,260.5 L683.7,266.3 L687.1,268.7 L690.5,265.1 L693.9,272.2 L697.2,266.1 L700.6,258.5 L704.0,259.6 L707.3,269.9 L710.7,267.5 L714.1,252.9 L717.5,272.9 L720.8,268.2 L724.2,271.7 L727.6,261.2 L730.9,259.2 L734.3,255.3 L737.7,278.9 L741.1,263.8 L744.4,275.0 L747.8,259.8 L751.2,265.1 L754.5,254.4 L757.9,262.2 L761.3,272.7 L764.7,258.4 L768.0,273.6 L771.4,267.8 L774.8,259.1 L778.1,263.8 L781.5,263.3 L784.9,267.4 L788.2,265.4 L791.6,262.9 L795.0,265.2 L798.4,261.3 L801.7,259.6 L805.1,267.6 L808.5,273.6 L811.8,257.4 L815.2,266.7 L818.6,260.6 L822.0,259.0 L825.3,271.0 L828.7,261.3 L832.1,274.7 L835.4,259.3 L838.8,266.1 L842.2,262.3 L845.6,258.6 L848.9,269.0 L852.3,263.7 L855.7,268.8 L859.0,263.8 L862.4,257.3 L865.8,263.9 L869.2,266.0 L872.5,271.7 L875.9,260.6 L879.3,264.8 L882.6,255.2 L886.0,270.4 L889.4,260.7" stroke="#fb8016" /><path d="M114.0,679.0 L117.4,669.3 L120.7,663.4 L124.1,634.4 L127.5,625.5 L130.9,614.6 L134.2,599.8 L137.6,599.1 L141.0,579.0 L144.3,568.6 L147.7,566.5 L151.1,548.0 L154.5,544.4 L157.8,525.4 L161.2,513.5 L164.6,500.6 L167.9,514.3 L171.3,491.8 L174.7,484.7 L178.1,474.4 L181.4,467.3 L184.8,461.8 L188.2,467.7 L191.5,442.1 L194.9,432.0 L198.3,430.3 L201.7,423.4 L205.0,432.6 L208.4,425.9 L211.8,410.2 L215.1,401.3 L218.5,402.7 L221.9,408.9 L225.3,378.8 L228.6,395.2 L232.0,380.8 L235.4,390.5 L238.7,373.1 L242.1,371.7 L245.5,360.8 L248.8,360.4 L252.2,374.0 L255.6,366.6 L259.0,355.4 L262.3,348.2 L265.7,338.0 L269.1,346.4 L272.4,346.4 L275.8,343.1 L279.2,338.8 L282.6,327.0 L285.9,331.1 L289.3,329.4 L292.7,335.7 L296.0,337.7 L299.4,322.7 L302.8,316.8 L306.2,320.1 L309.5,315.4 L312.9,314.2 L316.3,316.7 L319.6,308.4 L323.0,317.9 L326.4,312.1 L329.8,312.8 L333.1,309.3 L336.5,303.8 L339.9,301.9 L343.2,306.3 L346.6,303.6 L350.0,308.5 L353.4,306.1 L356.7,296.2 L360.1,305.9 L363.5,295.7 L366.8,299.7 L370.2,301.2 L373.6,288.6 L377.0,302.1 L380.3,301.6 L383.7,298.9 L387.1,296.1 L390.4,293.7 L393.8,289.7 L397.2,293.0 L400.6,289.8 L403.9,292.7 L407.3,283.4 L410.7,290.5 L414.0,289.9 L417.4,286.4 L420.8,283.4 L424.2,287.7 L427.5,272.6 L430.9,285.8 L434.3,284.0 L437.6,283.9 L441.0,285.0 L444.4,277.5 L447.8,281.9 L451.1,287.8 L454.5,286.8 L457.9,285.9 L461.2,274.6 L464.6,288.8 L468.0,292.9 L471.4,292.5 L474.7,289.8 L478.1,277.3 L481.5,294.9 L484.8,289.9 L488.2,275.8 L491.6,293.4 L495.0,280.5 L498.3,282.1 L501.7,284.8 L505.1,293.9 L508.4,283.6 L511.8,286.6 L515.2,295.9 L518.5,294.8 L521.9,284.4 L525.3,282.9 L528.7,276.3 L532.0,280.4 L535.4,289.1 L538.8,288.8 L542.1,286.2 L545.5,290.5 L548.9,277.9 L552.3,282.4 L555.6,287.9 L559.0,286.7 L562.4,291.1 L565.7,287.4 L569.1,282.4 L572.5,287.1 L575.9,278.6 L579.2,276.4 L582.6,291.0 L586.0,287.1 L589.3,290.2 L592.7,278.3 L596.1,285.8 L599.5,284.0 L602.8,281.9 L606.2,273.6 L609.6,284.6 L612.9,291.6 L616.3,289.7 L619.7,282.9 L623.1,284.6 L626.4,288.7 L629.8,265.7 L633.2,281.9 L636.5,285.4 L639.9,286.0 L643.3,292.4 L646.7,287.1 L650.0,281.8 L653.4,281.4 L656.8,283.5 L660.1,276.3 L663.5,280.2 L666.9,286.3 L670.3,292.2 L673.6,279.2 L677.0,278.4 L680.4,280.6 L683.7,288.6 L687.1,281.3 L690.5,290.2 L693.9,273.9 L697.2,280.0 L700.6,281.5 L704.0,287.4 L707.3,290.5 L710.7,274.6 L714.1,277.5 L717.5,284.9 L720.8,278.7 L724.2,274.3 L727.6,288.7 L730.9,284.7 L734.3,284.1 L737.7,278.1 L741.1,287.2 L744.4,279.6 L747.8,288.9 L751.2,276.0 L754.5,275.8 L757.9,283.9 L761.3,277.8 L764.7,287.6 L768.0,283.6 L771.4,275.9 L774.8,282.6 L778.1,278.5 L781.5,285.4 L784.9,274.3 L788.2,274.8 L791.6,285.1 L795.0,290.3 L798.4,289.4 L801.7,277.3 L805.1,277.9 L808.5,286.7 L811.8,278.3 L815.2,275.4 L818.6,283.4 L822.0,285.2 L825.3,278.6 L828.7,273.3 L832.1,273.8 L835.4,286.8 L838.8,278.2 L842.2,281.2 L845.6,282.8 L848.9,284.6 L852.3,279.7 L855.7,283.6 L859.0,274.6 L862.4,278.6 L865.8,275.1 L869.2,288.6 L872.5,281.1 L875.9,277.0 L879.3,278.7 L882.6,278.9 L886.0,285.8 L889.4,271.6" stroke="#a00ee0" /><path d="M114.0,679.0 L117.4,665.6 L120.7,675.6 L124.1,659.9 L127.5,645.6 L130.9,640.3 L134.2,639.4 L137.6,617.5 L141.0,609.1 L144.3,610.5 L147.7,598.2 L151.1,593.4 L154.5,578.3 L157.8,588.2 L161.2,580.8 L164.6,567.8 L167.9,562.6 L171.3,538.5 L174.7,551.1 L178.1,542.7 L181.4,542.0 L184.8,539.8 L188.2,527.4 L191.5,515.1 L194.9,523.9 L198.3,514.1 L201.7,511.8 L205.0,505.2 L208.4,500.5 L211.8,482.6 L215.1,500.4 L218.5,491.3 L221.9,493.0 L225.3,495.3 L228.6,477.7 L232.0,463.2 L235.4,467.0 L238.7,462.0 L242.1,465.5 L245.5,465.7 L248.8,447.9 L252.2,458.7 L255.6,442.4 L259.0,450.3 L262.3,444.6 L265.7,439.5 L269.1,437.9 L272.4,429.1 L275.8,424.1 L279.2,413.0 L282.6,419.5 L285.9,428.7 L289.3,425.0 L292.7,417.3 L296.0,409.4 L299.4,398.0 L302.8,410.0 L306.2,399.5 L309.5,397.8 L312.9,395.0 L316.3,394.7 L319.6,388.3 L323.0,388.1 L326.4,379.4 L329.8,381.0 L333.1,395.1 L336.5,378.3 L339.9,375.0 L343.2,376.1 L346.6,374.3 L350.0,361.9 L353.4,364.1 L356.7,369.3 L360.1,363.2 L363.5,360.9 L366.8,366.0 L370.2,350.8 L373.6,354.8 L377.0,349.9 L380.3,360.7 L383.7,337.9 L387.1,343.0 L390.4,343.6 L393.8,348.8 L397.2,348.2 L400.6,350.9 L403.9,329.8 L407.3,343.5 L410.7,337.4 L414.0,334.8 L417.4,343.5 L420.8,332.7 L424.2,324.7 L427.5,334.2 L430.9,324.6 L434.3,329.7 L437.6,335.9 L441.0,334.1 L444.4,342.6 L447.8,331.1 L451.1,322.0 L454.5,329.2 L457.9,330.2 L461.2,329.0 L464.6,339.4 L468.0,331.2 L471.4,322.1 L474.7,338.1 L478.1,332.0 L481.5,334.4 L484.8,332.1 L488.2,333.8 L491.6,330.2 L495.0,338.4 L498.3,333.3 L501.7,333.0 L505.1,333.0 L508.4,321.8 L511.8,329.4 L515.2,328.6 L518.5,332.4 L521.9,323.6 L525.3,341.4 L528.7,331.3 L532.0,323.0 L535.4,319.7 L538.8,328.1 L542.1,329.9 L545.5,326.2 L548.9,330.4 L552.3,323.6 L555.6,329.0 L559.0,321.3 L562.4,325.3 L565.7,332.3 L569.1,341.4 L572.5,319.7 L575.9,323.0 L579.2,320.5 L582.6,332.2 L586.0,322.3 L589.3,326.1 L592.7,330.1 L596.1,324.4 L599.5,325.3 L602.8,327.4 L606.2,316.8 L609.6,322.2 L612.9,328.3 L616.3,330.6 L619.7,327.7 L623.1,316.1 L626.4,324.0 L629.8,331.2 L633.2,330.1 L636.5,326.7 L639.9,320.8 L643.3,329.1 L646.7,321.7 L650.0,317.5 L653.4,320.0 L656.8,333.0 L660.1,326.0 L663.5,331.6 L666.9,318.5 L670.3,326.4 L673.6,317.9 L677.0,320.9 L680.4,338.2 L683.7,325.9 L687.1,318.7 L690.5,322.1 L693.9,324.6 L697.2,331.9 L700.6,321.4 L704.0,312.0 L707.3,320.9 L710.7,322.4 L714.1,324.5 L717.5,331.1 L720.8,321.9 L724.2,324.2 L727.6,311.7 L730.9,324.1 L734.3,331.4 L737.7,323.8 L741.1,321.0 L744.4,319.2 L747.8,329.5 L751.2,313.9 L754.5,319.3 L757.9,323.2 L761.3,324.9 L764.7,318.6 L768.0,323.4 L771.4,319.5 L774.8,321.6 L778.1,321.1 L781.5,314.4 L784.9,321.2 L788.2,327.3 L791.6,315.5 L795.0,320.8 L798.4,324.9 L801.7,312.2 L805.1,319.3 L808.5,310.8 L811.8,324.1 L815.2,331.9 L818.6,329.2 L822.0,313.9 L825.3,320.2 L828.7,316.3 L832.1,317.8 L835.4,327.4 L838.8,308.8 L842.2,324.9 L845.6,317.8 L848.9,326.5 L852.3,319.8 L855.7,313.0 L859.0,320.2 L862.4,324.5 L865.8,320.4 L869.2,322.9 L872.5,315.8 L875.9,305.7 L879.3,325.4 L882.6,323.6 L886.0,319.8 L889.4,320.4" stroke="#10b410" /><path d="M114.0,679.0 L117.4,676.2 L120.7,671.5 L124.1,672.6 L127.5,679.0 L130.9,661.0 L134.2,675.1 L137.6,661.9 L141.0,657.0 L144.3,669.1 L147.7,655.5 L151.1,645.8 L154.5,648.0 L157.8,651.9 L161.2,652.0 L164.6,638.5 L167.9,640.2 L171.3,639.5 L174.7,629.1 L178.1,633.2 L181.4,626.8 L184.8,620.7 L188.2,618.2 L191.5,617.0 L194.9,613.3 L198.3,605.6 L201.7,601.9 L205.0,607.7 L208.4,597.2 L211.8,598.8 L215.1,596.8 L218.5,589.8 L221.9,596.9 L225.3,573.2 L228.6,582.6 L232.0,574.0 L235.4,584.8 L238.7,582.0 L242.1,554.8 L245.5,558.9 L248.8,566.0 L252.2,564.9 L255.6,563.1 L259.0,553.1 L262.3,554.7 L265.7,553.2 L269.1,547.1 L272.4,551.2 L275.8,527.7 L279.2,544.4 L282.6,531.3 L285.9,540.8 L289.3,528.5 L292.7,517.7 L296.0,522.0 L299.4,509.4 L302.8,506.1 L306.2,498.6 L309.5,504.8 L312.9,506.6 L316.3,507.6 L319.6,497.3 L323.0,501.3 L326.4,493.3 L329.8,491.4 L333.1,494.8 L336.5,496.0 L339.9,486.8 L343.2,485.0 L346.6,484.0 L350.0,483.9 L353.4,477.2 L356.7,487.3 L360.1,476.1 L363.5,479.9 L366.8,468.4 L370.2,473.1 L373.6,470.9 L377.0,462.8 L380.3,477.3 L383.7,464.6 L387.1,471.7 L390.4,464.8 L393.8,452.4 L397.2,454.0 L400.6,458.9 L403.9,456.2 L407.3,456.6 L410.7,452.0 L414.0,440.8 L417.4,450.0 L420.8,435.8 L424.2,450.4 L427.5,442.6 L430.9,441.1 L434.3,443.5 L437.6,445.1 L441.0,433.9 L444.4,428.9 L447.8,432.1 L451.1,424.0 L454.5,432.2 L457.9,447.6 L461.2,430.0 L464.6,440.4 L468.0,425.8 L471.4,434.3 L474.7,431.2 L478.1,431.8 L481.5,436.8 L484.8,442.8 L488.2,433.1 L491.6,431.6 L495.0,424.5 L498.3,433.4 L501.7,430.6 L505.1,437.6 L508.4,431.3 L511.8,442.1 L515.2,419.2 L518.5,429.7 L521.9,438.6 L525.3,430.5 L528.7,427.0 L532.0,428.0 L535.4,421.3 L538.8,431.9 L542.1,446.5 L545.5,436.8 L548.9,422.7 L552.3,423.6 L555.6,425.8 L559.0,435.7 L562.4,425.0 L565.7,425.7 L569.1,436.1 L572.5,436.1 L575.9,430.4 L579.2,424.5 L582.6,421.6 L586.0,427.2 L589.3,416.7 L592.7,434.5 L596.1,425.6 L599.5,430.9 L602.8,438.3 L606.2,432.8 L609.6,419.1 L612.9,431.5 L616.3,434.7 L619.7,422.8 L623.1,423.9 L626.4,429.1 L629.8,420.4 L633.2,440.8 L636.5,415.4 L639.9,422.7 L643.3,428.0 L646.7,426.3 L650.0,431.2 L653.4,430.1 L656.8,426.7 L660.1,434.9 L663.5,413.6 L666.9,427.9 L670.3,423.9 L673.6,428.5 L677.0,429.6 L680.4,421.3 L683.7,421.6 L687.1,428.6 L690.5,427.0 L693.9,420.4 L697.2,435.3 L700.6,436.0 L704.0,412.4 L707.3,424.1 L710.7,438.0 L714.1,428.6 L717.5,427.1 L720.8,422.8 L724.2,421.2 L727.6,425.4 L730.9,424.7 L734.3,433.1 L737.7,426.4 L741.1,425.8 L744.4,420.1 L747.8,426.8 L751.2,421.6 L754.5,425.7 L757.9,433.1 L761.3,428.1 L764.7,429.1 L768.0,427.0 L771.4,425.8 L774.8,424.4 L778.1,423.5 L781.5,431.2 L784.9,420.1 L788.2,436.1 L791.6,427.6 L795.0,422.9 L798.4,424.3 L801.7,422.9 L805.1,430.8 L808.5,425.8 L811.8,438.5 L815.2,426.0 L818.6,415.3 L822.0,424.7 L825.3,417.1 L828.7,431.0 L832.1,436.1 L835.4,431.7 L838.8,418.6 L842.2,420.1 L845.6,434.5 L848.9,425.1 L852.3,423.4 L855.7,429.0 L859.0,436.9 L862.4,431.2 L865.8,424.9 L869.2,426.2 L872.5,429.3 L875.9,423.3 L879.3,422.0 L882.6,429.2 L886.0,423.8 L889.4,430.4" stroke="#1c98ae" /><path d="M114.0,679.0 L117.4,679.0 L120.7,664.4 L124.1,665.3 L127.5,664.5 L130.9,668.5 L134.2,673.7 L137.6,662.0 L141.0,658.7 L144.3,650.7 L147.7,652.3 L151.1,658.9 L154.5,651.7 L157.8,641.4 L161.2,642.8 L164.6,645.2 L167.9,648.7 L171.3,639.8 L174.7,642.1 L178.1,630.6 L181.4,632.0 L184.8,647.4 L188.2,620.6 L191.5,629.4 L194.9,628.9 L198.3,623.2 L201.7,621.6 L205.0,623.7 L208.4,623.2 L211.8,622.0 L215.1,608.1 L218.5,615.7 L221.9,608.0 L225.3,607.9 L228.6,609.7 L232.0,607.7 L235.4,606.1 L238.7,593.2 L242.1,599.8 L245.5,599.6 L248.8,597.1 L252.2,598.3 L255.6,586.0 L259.0,584.8 L262.3,590.2 L265.7,576.3 L269.1,585.9 L272.4,579.1 L275.8,577.4 L279.2,566.5 L282.6,569.0 L285.9,572.7 L289.3,576.7 L292.7,574.8 L296.0,564.9 L299.4,561.1 L302.8,553.8 L306.2,560.4 L309.5,556.6 L312.9,561.1 L316.3,567.9 L319.6,555.4 L323.0,544.0 L326.4,546.3 L329.8,542.6 L333.1,543.6 L336.5,557.3 L339.9,548.2 L343.2,535.5 L346.6,547.0 L350.0,548.4 L353.4,537.1 L356.7,532.9 L360.1,531.5 L363.5,533.5 L366.8,534.2 L370.2,535.3 L373.6,534.6 L377.0,532.7 L380.3,532.3 L383.7,527.0 L387.1,511.7 L390.4,520.2 L393.8,523.0 L397.2,517.0 L400.6,523.7 L403.9,512.9 L407.3,507.1 L410.7,520.1 L414.0,513.5 L417.4,511.8 L420.8,515.4 L424.2,514.7 L427.5,510.7 L430.9,492.0 L434.3,501.5 L437.6,502.8 L441.0,499.7 L444.4,504.3 L447.8,507.5 L451.1,495.6 L454.5,490.8 L457.9,509.7 L461.2,494.3 L464.6,489.5 L468.0,498.6 L471.4,499.5 L474.7,493.4 L478.1,502.1 L481.5,493.5 L484.8,490.6 L488.2,497.9 L491.6,499.2 L495.0,491.3 L498.3,496.0 L501.7,492.7 L505.1,511.5 L508.4,489.0 L511.8,501.2 L515.2,491.3 L518.5,490.5 L521.9,498.3 L525.3,499.3 L528.7,502.2 L532.0,495.8 L535.4,488.7 L538.8,489.3 L542.1,495.8 L545.5,496.1 L548.9,501.4 L552.3,495.7 L555.6,500.2 L559.0,504.5 L562.4,495.1 L565.7,486.2 L569.1,487.5 L572.5,486.2 L575.9,505.3 L579.2,489.1 L582.6,501.4 L586.0,496.5 L589.3,502.6 L592.7,499.0 L596.1,491.7 L599.5,492.0 L602.8,493.0 L606.2,496.0 L609.6,492.0 L612.9,495.7 L616.3,505.8 L619.7,484.2 L623.1,496.8 L626.4,488.4 L629.8,496.5 L633.2,500.9 L636.5,494.4 L639.9,499.4 L643.3,483.6 L646.7,502.7 L650.0,492.9 L653.4,500.4 L656.8,497.1 L660.1,478.1 L663.5,490.3 L666.9,497.0 L670.3,504.9 L673.6,495.7 L677.0,493.6 L680.4,482.6 L683.7,502.0 L687.1,504.8 L690.5,491.8 L693.9,489.9 L697.2,479.1 L700.6,495.6 L704.0,509.1 L707.3,495.6 L710.7,499.7 L714.1,494.1 L717.5,484.8 L720.8,500.9 L724.2,484.7 L727.6,491.8 L730.9,495.8 L734.3,499.9 L737.7,497.8 L741.1,497.2 L744.4,490.7 L747.8,488.4 L751.2,498.0 L754.5,494.6 L757.9,492.0 L761.3,492.9 L764.7,496.8 L768.0,487.9 L771.4,489.1 L774.8,487.4 L778.1,498.6 L781.5,499.0 L784.9,508.0 L788.2,485.0 L791.6,487.8 L795.0,498.3 L798.4,492.2 L801.7,493.8 L805.1,505.4 L808.5,491.7 L811.8,488.1 L815.2,487.6 L818.6,497.5 L822.0,498.1 L825.3,487.6 L828.7,488.8 L832.1,497.1 L835.4,498.9 L838.8,491.5 L842.2,498.3 L845.6,497.7 L848.9,484.6 L852.3,494.5 L855.7,498.1 L859.0,491.2 L862.4,483.1 L865.8,491.8 L869.2,499.0 L872.5,503.8 L875.9,478.6 L879.3,506.9 L882.6,483.7 L886.0,495.6 L889.4,500.0" stroke="#0008e4" /><path d="M114.0,679.0 L117.4,679.0 L120.7,679.0 L124.1,679.0 L127.5,679.0 L130.9,668.4 L134.2,679.0 L137.6,679.0 L141.0,679.0 L144.3,670.7 L147.7,679.0 L151.1,679.0 L154.5,679.0 L157.8,676.6 L161.2,665.7 L164.6,672.0 L167.9,659.5 L171.3,663.0 L174.7,672.2 L178.1,662.8 L181.4,667.1 L184.8,664.2 L188.2,675.0 L191.5,669.5 L194.9,657.7 L198.3,664.6 L201.7,650.2 L205.0,653.7 L208.4,661.3 L211.8,645.2 L215.1,651.5 L218.5,643.0 L221.9,651.4 L225.3,661.3 L228.6,644.9 L232.0,648.7 L235.4,637.8 L238.7,634.8 L242.1,634.7 L245.5,649.6 L248.8,654.7 L252.2,640.3 L255.6,630.5 L259.0,637.3 L262.3,630.2 L265.7,638.3 L269.1,634.5 L272.4,634.0 L275.8,635.8 L279.2,627.8 L282.6,628.4 L285.9,619.8 L289.3,626.9 L292.7,619.6 L296.0,627.2 L299.4,621.1 L302.8,626.2 L306.2,626.6 L309.5,611.7 L312.9,614.1 L316.3,612.1 L319.6,621.2 L323.0,628.0 L326.4,619.7 L329.8,611.3 L333.1,623.4 L336.5,602.4 L339.9,620.7 L343.2,606.9 L346.6,591.5 L350.0,625.8 L353.4,616.4 L356.7,600.8 L360.1,607.6 L363.5,601.9 L366.8,604.8 L370.2,594.0 L373.6,597.4 L377.0,602.3 L380.3,600.2 L383.7,605.4 L387.1,597.7 L390.4,611.6 L393.8,590.6 L397.2,596.7 L400.6,582.5 L403.9,586.0 L407.3,603.9 L410.7,588.4 L414.0,597.4 L417.4,591.8 L420.8,583.3 L424.2,587.4 L427.5,584.3 L430.9,583.8 L434.3,589.8 L437.6,586.7 L441.0,576.2 L444.4,570.2 L447.8,575.1 L451.1,571.5 L454.5,579.0 L457.9,589.3 L461.2,577.4 L464.6,572.5 L468.0,571.5 L471.4,567.9 L474.7,568.6 L478.1,568.6 L481.5,572.2 L484.8,572.5 L488.2,577.9 L491.6,569.3 L495.0,568.3 L498.3,560.8 L501.7,577.7 L505.1,571.1 L508.4,578.5 L511.8,570.1 L515.2,574.5 L518.5,563.7 L521.9,569.0 L525.3,582.6 L528.7,557.6 L532.0,573.0 L535.4,576.6 L538.8,568.7 L542.1,573.4 L545.5,576.3 L548.9,565.1 L552.3,573.3 L555.6,565.2 L559.0,566.7 L562.4,569.0 L565.7,570.1 L569.1,571.4 L572.5,572.3 L575.9,559.8 L579.2,581.6 L582.6,575.7 L586.0,572.7 L589.3,567.1 L592.7,567.3 L596.1,570.7 L599.5,572.0 L602.8,558.2 L606.2,573.4 L609.6,587.6 L612.9,555.9 L616.3,575.6 L619.7,570.1 L623.1,566.5 L626.4,578.4 L629.8,560.7 L633.2,570.1 L636.5,579.1 L639.9,567.1 L643.3,567.2 L646.7,569.2 L650.0,566.6 L653.4,580.1 L656.8,564.0 L660.1,577.2 L663.5,563.4 L666.9,576.4 L670.3,572.8 L673.6,554.7 L677.0,573.0 L680.4,565.9 L683.7,569.4 L687.1,582.2 L690.5,561.8 L693.9,561.9 L697.2,578.1 L700.6,569.1 L704.0,578.6 L707.3,569.1 L710.7,560.4 L714.1,566.8 L717.5,575.4 L720.8,575.0 L724.2,567.6 L727.6,567.3 L730.9,567.0 L734.3,565.1 L737.7,581.7 L741.1,568.6 L744.4,561.2 L747.8,565.9 L751.2,573.3 L754.5,575.3 L757.9,571.2 L761.3,566.2 L764.7,570.7 L768.0,559.9 L771.4,561.8 L774.8,575.0 L778.1,566.1 L781.5,570.1 L784.9,573.9 L788.2,569.5 L791.6,565.4 L795.0,578.5 L798.4,569.8 L801.7,563.9 L805.1,571.6 L808.5,570.9 L811.8,564.2 L815.2,571.0 L818.6,569.5 L822.0,559.4 L825.3,571.6 L828.7,570.3 L832.1,569.2 L835.4,562.0 L838.8,568.5 L842.2,571.3 L845.6,572.1 L848.9,562.8 L852.3,573.6 L855.7,561.6 L859.0,567.2 L862.4,577.6 L865.8,563.9 L869.2,565.3 L872.5,574.0 L875.9,565.9 L879.3,566.6 L882.6,569.3 L886.0,574.5 L889.4,554.3" stroke="#f8f800" />
</g>
<g stroke="#000" stroke-width="6" fill="none">
<line x1="114" y1="77.8" x2="114" y2="683"/>
<line x1="111" y1="680" x2="1016" y2="680"/>
<line x1="88" y1="680.0" x2="114" y2="680.0"/><line x1="88" y1="560.2" x2="114" y2="560.2"/><line x1="88" y1="440.3" x2="114" y2="440.3"/><line x1="88" y1="320.5" x2="114" y2="320.5"/><line x1="88" y1="200.7" x2="114" y2="200.7"/><line x1="88" y1="80.9" x2="114" y2="80.9"/>
<line x1="114.0" y1="680" x2="114.0" y2="705"/><line x1="338.8" y1="680" x2="338.8" y2="705"/><line x1="563.5" y1="680" x2="563.5" y2="705"/><line x1="788.2" y1="680" x2="788.2" y2="705"/><line x1="1013.0" y1="680" x2="1013.0" y2="705"/>
</g>
<g class="tx" font-size="35" fill="#000">
<text transform="translate(81.4,690.6) scale(0.935,1)" text-anchor="end">0.0</text><text transform="translate(81.4,570.9) scale(0.935,1)" text-anchor="end">0.&#x2007;</text><text transform="translate(81.4,451.1) scale(0.935,1)" text-anchor="end">0.2</text><text transform="translate(81.4,331.4) scale(0.935,1)" text-anchor="end">0.3</text><text transform="translate(81.4,211.6) scale(0.935,1)" text-anchor="end">0.4</text><text transform="translate(81.4,91.9) scale(0.935,1)" text-anchor="end">0.5</text>
<text transform="translate(114.0,742.7) scale(0.96,1)" text-anchor="middle">0</text><text transform="translate(338.8,742.7) scale(0.96,1)" text-anchor="middle">&#x2007;00</text><text transform="translate(563.5,742.7) scale(0.96,1)" text-anchor="middle">200</text><text transform="translate(788.2,742.7) scale(0.96,1)" text-anchor="middle">300</text><text transform="translate(1013.0,742.7) scale(0.96,1)" text-anchor="middle">400</text>
</g>
<g>
<line x1="931" y1="79.8" x2="995" y2="79.8" stroke="#ec4444" stroke-width="3"/><line x1="930" y1="129.3" x2="994" y2="129.3" stroke="#fb8016" stroke-width="3"/><line x1="929" y1="178.6" x2="993" y2="178.6" stroke="#a00ee0" stroke-width="3"/><line x1="929" y1="231.2" x2="993" y2="231.2" stroke="#10b410" stroke-width="3"/><line x1="929" y1="283.8" x2="993" y2="283.8" stroke="#1c98ae" stroke-width="3"/><line x1="929" y1="336.0" x2="993" y2="336.0" stroke="#0008e4" stroke-width="3"/><line x1="929" y1="388.4" x2="993" y2="388.4" stroke="#f8f800" stroke-width="3"/>
</g>
<g class="tx" font-size="25" fill="#000">
<text x="1008" y="89.4">50 nM</text><text x="1008" y="138.9">25 nM</text><text x="1008" y="188.2">&#x2007;2.5 nM</text><text x="1008" y="240.8">6.25 nM</text><text x="1008" y="293.4">3.&#x2007;25 nM</text><text x="1008" y="345.6">&#x2007;.56 nM</text><text x="1008" y="398.0">0.78 nM</text>
</g>
<g class="tx" fill="#000" font-size="31">
<text x="125.6" y="109">K</text><text x="146" y="114.6" font-size="21">D</text>
<path d="M185.5,88.3 L166.2,98.8 L185.5,109.6" stroke="#000" stroke-width="2.4" fill="none" stroke-linejoin="miter"/>
<text transform="translate(190.9,109) scale(0.93,1)">&#x2007;.00×&#x2007;0</text><text x="294" y="96.8" font-size="21">-&#x2007;2</text>
<text x="125.6" y="151.3">K</text><text x="145" y="156.7" font-size="22">off</text>
<path d="M194.5,131 L175.2,141.4 L194.5,152" stroke="#000" stroke-width="2.4" fill="none" stroke-linejoin="miter"/>
<text transform="translate(199.3,151.3) scale(0.93,1)">&#x2007;.00×&#x2007;0</text><text x="303" y="139.5" font-size="21">-6</text>
<text x="125.6" y="193.8">K</text><text x="145" y="199.2" font-size="22">on</text>
<text transform="translate(169.9,193.8) scale(0.93,1)">=&#x2007;.76×&#x2007;0</text><text x="291.5" y="181.5" font-size="21">6</text>
</g>
<g fill="#000"><g transform="translate(81.4,570.9) scale(0.935,1)"><path transform="translate(-19.466,0.000) scale(0.017090,-0.017090)" d="M515,0L515,1237L197,1010L197,1180L530,1409L696,1409L696,0Z" stroke="#000" stroke-width="0.35" vector-effect="non-scaling-stroke"/></g><g transform="translate(338.8,742.7) scale(0.96,1)"><path transform="translate(-29.195,0.000) scale(0.017090,-0.017090)" d="M515,0L515,1237L197,1010L197,1180L530,1409L696,1409L696,0Z" stroke="#000" stroke-width="0.35" vector-effect="non-scaling-stroke"/></g><path transform="translate(1008.000,188.200) scale(0.012207,-0.012207)" d="M515,0L515,1237L197,1010L197,1180L530,1409L696,1409L696,0Z" stroke="#000" stroke-width="0.35" vector-effect="non-scaling-stroke"/><path transform="translate(1028.844,293.400) scale(0.012207,-0.012207)" d="M515,0L515,1237L197,1010L197,1180L530,1409L696,1409L696,0Z" stroke="#000" stroke-width="0.35" vector-effect="non-scaling-stroke"/><path transform="translate(1008.000,345.600) scale(0.012207,-0.012207)" d="M515,0L515,1237L197,1010L197,1180L530,1409L696,1409L696,0Z" stroke="#000" stroke-width="0.35" vector-effect="non-scaling-stroke"/><g transform="translate(190.9,109) scale(0.93,1)"><path transform="translate(0.000,0.000) scale(0.015137,-0.015137)" d="M515,0L515,1237L197,1010L197,1180L530,1409L696,1409L696,0Z" stroke="#000" stroke-width="0.35" vector-effect="non-scaling-stroke"/></g><g transform="translate(190.9,109) scale(0.93,1)"><path transform="translate(78.397,0.000) scale(0.015137,-0.015137)" d="M515,0L515,1237L197,1010L197,1180L530,1409L696,1409L696,0Z" stroke="#000" stroke-width="0.35" vector-effect="non-scaling-stroke"/></g><path transform="translate(300.984,96.800) scale(0.010254,-0.010254)" d="M515,0L515,1237L197,1010L197,1180L530,1409L696,1409L696,0Z" stroke="#000" stroke-width="0.35" vector-effect="non-scaling-stroke"/><g transform="translate(199.3,151.3) scale(0.93,1)"><path transform="translate(0.000,0.000) scale(0.015137,-0.015137)" d="M515,0L515,1237L197,1010L197,1180L530,1409L696,1409L696,0Z" stroke="#000" stroke-width="0.35" vector-effect="non-scaling-stroke"/></g><g transform="translate(199.3,151.3) scale(0.93,1)"><path transform="translate(78.397,0.000) scale(0.015137,-0.015137)" d="M515,0L515,1237L197,1010L197,1180L530,1409L696,1409L696,0Z" stroke="#000" stroke-width="0.35" vector-effect="non-scaling-stroke"/></g><g transform="translate(169.9,193.8) scale(0.93,1)"><path transform="translate(18.090,0.000) scale(0.015137,-0.015137)" d="M515,0L515,1237L197,1010L197,1180L530,1409L696,1409L696,0Z" stroke="#000" stroke-width="0.35" vector-effect="non-scaling-stroke"/></g><g transform="translate(169.9,193.8) scale(0.93,1)"><path transform="translate(96.488,0.000) scale(0.015137,-0.015137)" d="M515,0L515,1237L197,1010L197,1180L530,1409L696,1409L696,0Z" stroke="#000" stroke-width="0.35" vector-effect="non-scaling-stroke"/></g></g>
</svg>
</body></html>
